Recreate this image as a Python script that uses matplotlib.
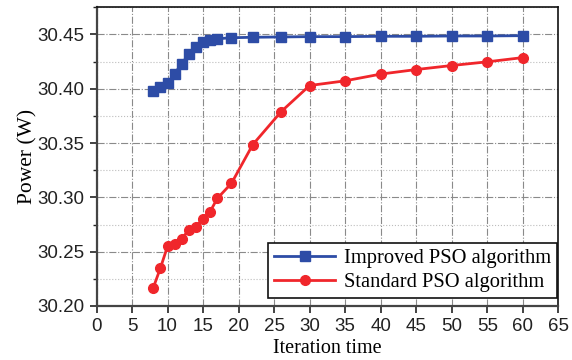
import matplotlib.pyplot as plt
from matplotlib.ticker import MultipleLocator

# ---- data ----
iters_imp = [8, 9, 10, 11, 12, 13, 14, 15, 16, 17, 19, 22, 26, 30, 35, 40, 45, 50, 55, 60]
power_imp = [30.398, 30.402, 30.405, 30.414, 30.423, 30.432, 30.438, 30.443, 30.445, 30.446,
             30.447, 30.4474, 30.4477, 30.448, 30.448, 30.4483, 30.4483, 30.4486, 30.4486, 30.4489]

iters_std = [8, 9, 10, 11, 12, 13, 14, 15, 16, 17, 19, 22, 26, 30, 35, 40, 45, 50, 55, 60]
power_std = [30.217, 30.235, 30.255, 30.2575, 30.262, 30.270, 30.273, 30.2805, 30.287, 30.299,
             30.313, 30.3486, 30.379, 30.403, 30.4073, 30.4135, 30.4177, 30.4214, 30.4248, 30.4287]

labels = ["Improved PSO algorithm", "Standard PSO algorithm"]
BLUE = "#2d4ca6"
RED = "#f0262b"

fig = plt.figure(figsize=(5.72, 3.6), dpi=100)
ax = fig.add_axes([96.5/572, (360-306)/360, (558.3-96.5)/572, (306-7.3)/360])

ax.plot(iters_imp, power_imp, color=BLUE, lw=2, marker="s", ms=6.5, label=labels[0], zorder=3)
ax.plot(iters_std, power_std, color=RED, lw=2, marker="o", ms=7, label=labels[1], zorder=3)

ax.set_xlim(0, 65)
ax.set_ylim(30.20, 30.475)
ax.xaxis.set_major_locator(MultipleLocator(5))
ax.yaxis.set_major_locator(MultipleLocator(0.05))
ax.yaxis.set_minor_locator(MultipleLocator(0.025))
ax.yaxis.set_major_formatter(plt.FormatStrFormatter("%.2f"))

ax.grid(which="major", color="#8a8a8a", ls="-.", lw=0.8, zorder=0)
ax.grid(which="minor", axis="y", color="#bdbdbd", ls=":", lw=0.8, zorder=0)

tick_font = "Liberation Sans"
for lab in ax.get_xticklabels() + ax.get_yticklabels():
    lab.set_fontfamily(tick_font)
ax.tick_params(which="major", direction="out", length=5, width=1.2, labelsize=13.5, colors="#222222")
ax.tick_params(which="minor", direction="out", length=3, width=1.0, colors="#222222")

for side in ["left", "bottom"]:
    ax.spines[side].set_linewidth(1.6)
    ax.spines[side].set_color("#444444")
for side in ["top", "right"]:
    ax.spines[side].set_linewidth(1.2)
    ax.spines[side].set_color("#111111")

ax.set_xlabel("Iteration time", family="Liberation Serif", fontsize=14.5, labelpad=3)
ax.set_ylabel("Power (W)", family="Liberation Serif", fontsize=15.5, labelpad=0)

leg = ax.legend(loc="lower right", bbox_to_anchor=(0.997, 0.027),
                prop={"family": "Liberation Serif", "size": 14.8},
                frameon=True, fancybox=False, edgecolor="#111111", framealpha=1,
                handlelength=3.0, handletextpad=0.4, borderpad=0.3, labelspacing=0.2,
                borderaxespad=0.0)
leg.get_frame().set_linewidth(1.2)

fig.savefig("out.png", dpi=100)
